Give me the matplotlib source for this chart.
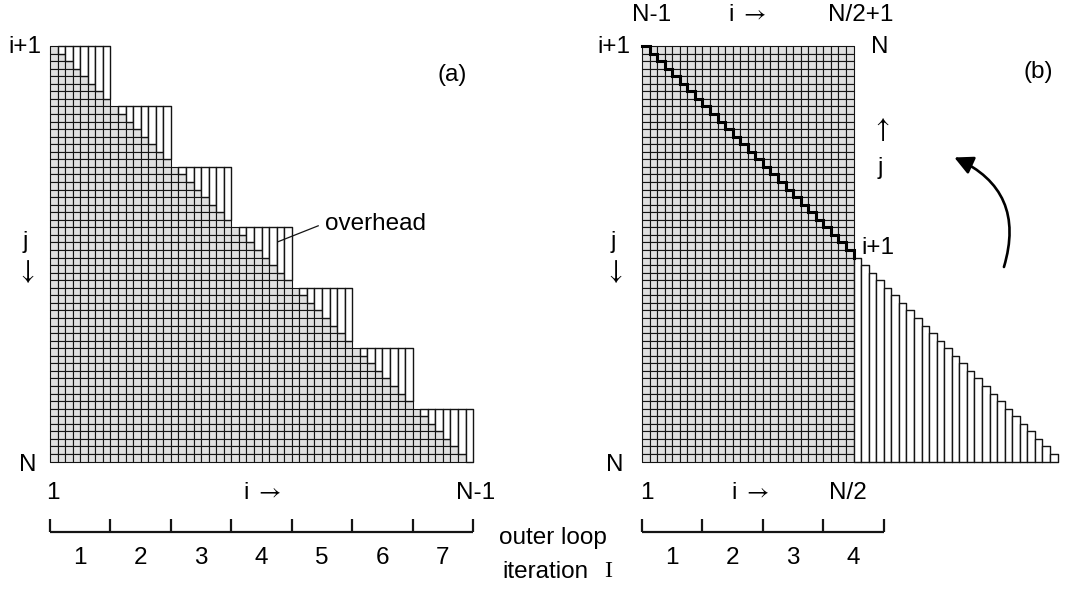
import matplotlib
matplotlib.use("Agg")
import matplotlib.pyplot as plt
from matplotlib.patches import Rectangle, FancyArrowPatch
from matplotlib.collections import PatchCollection

plt.rcParams["mathtext.fontset"] = "stix"

W, H, DPI = 1065, 596, 100
CELL = 7.555  # pixels per matrix cell

# matrix sizes
n_cols_a = 56      # columns i = 1 .. N-1
n_rows = 55        # rows j = i+1 .. N
block = 8          # columns handled per outer loop iteration
iter_a = [1, 2, 3, 4, 5, 6, 7]
iter_b = [1, 2, 3, 4]
half = 28          # columns kept in (b), i = 1 .. N/2
n_folded = 27      # folded columns shown under the staircase in (b)

GRAY = "#e0e0e0"
INK = "#141414"
FONT = dict(fontsize=17.5, family=["Liberation Sans", "DejaVu Sans"], color="black")
RIGHT = r"i $\rightarrow$"
DOWN = r"$\downarrow$"
UP = r"$\uparrow$"

fig = plt.figure(figsize=(W / DPI, H / DPI), dpi=DPI)
ax = fig.add_axes([0, 0, 1, 1])
ax.set_xlim(0, W / CELL)
ax.set_ylim(H / CELL, 0)
ax.set_aspect("equal")
ax.axis("off")

ax_y = 46 / CELL
xa = 50 / CELL
xb = 642 / CELL


def label(x, y, s, ha="center", va="center", **kw):
    opts = dict(FONT)
    opts.update(kw)
    ax.text(x, y, s, ha=ha, va=va, **opts)


def iteration_axis(x0, iters):
    y = ax_y + 64.3
    x1 = x0 + len(iters) * block
    ax.plot([x0, x1], [y, y], color=INK, lw=1.6, solid_capstyle="butt")
    ticks = [x0 + k * block for k in range(len(iters) + 1)]
    ax.vlines(ticks, y - 1.75, y, color=INK, lw=1.6)
    for k, it in enumerate(iters):
        label(x0 + k * block + block / 2, y + 3.5, str(it))


# ---- (a): triangular loop, blocked by outer iteration ----
cells = []
for c in range(n_cols_a):
    for r in range(c, n_rows):
        cells.append(Rectangle((xa + c, ax_y + r), 1, 1))
ax.add_collection(PatchCollection(cells, facecolor=GRAY, edgecolor=INK, linewidth=0.8))

strips = []
for c in range(n_cols_a):
    top = (c // block) * block
    h = min(c, n_rows) - top
    if h > 0:
        strips.append(Rectangle((xa + c, ax_y + top), 1, h))
ax.add_collection(PatchCollection(strips, facecolor="white", edgecolor=INK, linewidth=1.0))

label(xa - 1.2, ax_y + 0.1, "i+1", ha="right")
label(xa + 53.3, ax_y + 3.8, "(a)")
label(xa + 36.4, ax_y + 23.6, "overhead", ha="left")
ax.plot([xa + 35.5, xa + 30.2], [ax_y + 23.8, ax_y + 25.9], color=INK, lw=0.9)
label(xa - 3.3, ax_y + 25.9, "j")
label(xa - 3.3, ax_y + 29.9, DOWN, fontsize=20)
label(xa - 3.0, ax_y + 55.5, "N")
label(xa + 0.4, ax_y + 59.2, "1")
label(xa + 28.1, ax_y + 59.2, RIGHT)
label(xa + 56.3, ax_y + 59.2, "N-1")
iteration_axis(xa, iter_a)

label(xa + 66.6, ax_y + 65.1, "outer loop")
label(xa + 59.9, ax_y + 69.6, "iteration", ha="left")
label(xa + 73.9, ax_y + 69.6, "I", family="Liberation Serif")

# ---- (b): lower half folded onto the upper half ----
cells = []
for c in range(half):
    for r in range(n_rows):
        cells.append(Rectangle((xb + c, ax_y + r), 1, 1))
ax.add_collection(PatchCollection(cells, facecolor=GRAY, edgecolor=INK, linewidth=0.8))

strips = []
for k in range(n_folded):
    top = half + k
    strips.append(Rectangle((xb + half + k, ax_y + top), 1, n_rows - top))
ax.add_collection(PatchCollection(strips, facecolor="white", edgecolor=INK, linewidth=1.0))

sx, sy = [xb], [ax_y]
for c in range(half):
    sx += [xb + c + 1, xb + c + 1]
    sy += [ax_y + c, ax_y + c + 1]
ax.plot(sx, sy, color="black", lw=2.2, solid_joinstyle="miter")

label(xb + 1.3, ax_y - 4.1, "N-1")
label(xb + 13.9, ax_y - 4.1, RIGHT)
label(xb + 28.9, ax_y - 4.1, "N/2+1")
label(xb - 1.6, ax_y + 0.1, "i+1", ha="right")
label(xb + 31.5, ax_y + 0.1, "N")
label(xb + 31.5, ax_y + 11.1, UP, fontsize=20)
label(xb + 31.5, ax_y + 16.1, "j")
label(xb + 52.4, ax_y + 3.4, "(b)")
label(xb + 29.0, ax_y + 26.7, "i+1", ha="left")
label(xb - 3.8, ax_y + 25.9, "j")
label(xb - 3.8, ax_y + 29.9, DOWN, fontsize=20)
label(xb - 3.6, ax_y + 55.5, "N")
label(xb + 0.7, ax_y + 59.2, "1")
label(xb + 14.3, ax_y + 59.2, RIGHT)
label(xb + 27.3, ax_y + 59.2, "N/2")
iteration_axis(xb, iter_b)

ax.add_patch(FancyArrowPatch((xb + 47.8, ax_y + 29.6), (xb + 41.0, ax_y + 14.6),
                             connectionstyle="arc3,rad=0.45", arrowstyle="-|>,head_length=7,head_width=3.5",
                             color="black", lw=1.9, mutation_scale=1.6))

fig.savefig("out.png", dpi=DPI, facecolor="white")
